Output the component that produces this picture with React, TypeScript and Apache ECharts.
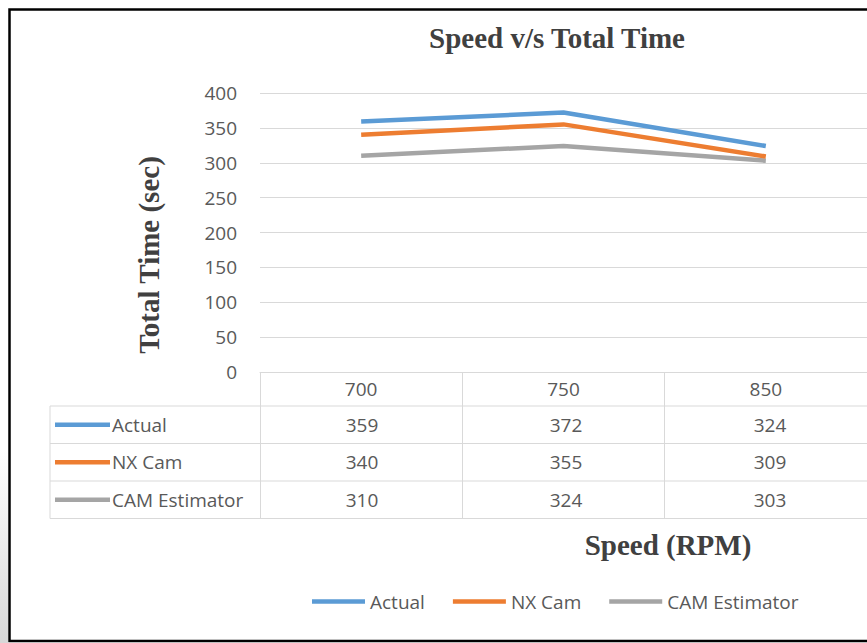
import React, { useEffect, useRef } from "react";
import * as echarts from "echarts";

const categories = ["700", "750", "850"];
const seriesNames = ["Actual", "NX Cam", "CAM Estimator"];
const actualValues = [359, 372, 324];
const nxCamValues = [340, 355, 309];
const camEstimatorValues = [310, 324, 303];
const seriesColors = ["#5B9BD5", "#ED7D31", "#A5A5A5"];
const yMin = 0;
const yMax = 400;
const yInterval = 50;

const chartTitle = "Speed v/s Total Time";
const yTitle = "Total Time (sec)";
const xTitle = "Speed (RPM)";

export default function App() {
  const ref = useRef<HTMLDivElement>(null);
  useEffect(() => {
    if (!ref.current) return;
    const chart = echarts.init(ref.current, undefined, { renderer: "svg" });
    const allValues = [actualValues, nxCamValues, camEstimatorValues];

    const gridLeft = 260;
    const gridTop = 93;
    const gridWidth = 612;
    const gridHeight = 279;
    const colW = gridWidth / categories.length;
    const tableTop = gridTop + gridHeight + 34;
    const rowH = 37.5;
    const tableLeft = 50;
    const tableRight = gridLeft + gridWidth;
    const textColor = "#595959";
    const titleColor = "#404040";
    const sans = "'Open Sans', sans-serif";
    const serif = "'Liberation Serif', 'Times New Roman', serif";

    const graphic: any[] = [];
    // border shadow
    graphic.push({
      type: "rect",
      shape: { x: 0, y: 450, width: 8, height: 193 },
      style: {
        fill: new echarts.graphic.LinearGradient(0, 0, 0, 1, [
          { offset: 0, color: "rgba(215,215,215,0)" },
          { offset: 1, color: "rgba(215,215,215,1)" },
        ]),
      },
      silent: true,
    });
    graphic.push({
      type: "rect",
      shape: { x: 9.5, y: 9.5, width: 950, height: 631.5 },
      style: { fill: "none", stroke: "#000", lineWidth: 2.5 },
      silent: true,
    });
    // table horizontal lines
    for (let i = 0; i <= seriesNames.length; i++) {
      const y = tableTop + i * rowH;
      graphic.push({
        type: "line",
        shape: { x1: tableLeft, y1: y, x2: tableRight, y2: y },
        style: { stroke: "#d9d9d9", lineWidth: 1 },
        silent: true,
      });
    }
    graphic.push({
      type: "line",
      shape: { x1: tableLeft, y1: tableTop, x2: tableLeft, y2: tableTop + rowH * seriesNames.length },
      style: { stroke: "#d9d9d9", lineWidth: 1 },
      silent: true,
    });
    seriesNames.forEach((name, i) => {
      const cy = tableTop + rowH * (i + 0.5);
      graphic.push({
        type: "line",
        shape: { x1: 55, y1: cy, x2: 110, y2: cy },
        style: { stroke: seriesColors[i], lineWidth: 4.5 },
        silent: true,
      });
      graphic.push({
        type: "text",
        x: 112,
        y: cy,
        style: {
          text: name,
          fill: textColor,
          fontSize: 19,
          fontFamily: sans,
          textAlign: "left",
          textVerticalAlign: "middle",
          align: "left",
          verticalAlign: "middle",
        },
        silent: true,
      });
      allValues[i].forEach((v, j) => {
        graphic.push({
          type: "text",
          x: gridLeft + colW * (j + 0.5),
          y: cy,
          style: {
            text: String(v),
            fill: textColor,
            fontSize: 19,
            fontFamily: sans,
            textAlign: "center",
            textVerticalAlign: "middle",
            align: "center",
            verticalAlign: "middle",
          },
          silent: true,
        });
      });
    });
    // titles
    graphic.push({
      type: "text",
      x: 557,
      y: 38,
      style: {
        text: chartTitle,
        fill: titleColor,
        fontSize: 29,
        fontWeight: "bold",
        fontFamily: serif,
        textAlign: "center",
        textVerticalAlign: "middle",
        align: "center",
        verticalAlign: "middle",
      },
      silent: true,
    });
    graphic.push({
      type: "text",
      x: 149,
      y: 255,
      rotation: Math.PI / 2,
      style: {
        text: yTitle,
        fill: titleColor,
        fontSize: 29,
        fontWeight: "bold",
        fontFamily: serif,
        textAlign: "center",
        textVerticalAlign: "middle",
        align: "center",
        verticalAlign: "middle",
      },
      silent: true,
    });
    graphic.push({
      type: "text",
      x: 668,
      y: 545,
      style: {
        text: xTitle,
        fill: titleColor,
        fontSize: 29,
        fontWeight: "bold",
        fontFamily: serif,
        textAlign: "center",
        textVerticalAlign: "middle",
        align: "center",
        verticalAlign: "middle",
      },
      silent: true,
    });

    chart.setOption({
      animation: false,
      backgroundColor: "#ffffff",
      grid: { left: gridLeft, top: gridTop, width: gridWidth, height: gridHeight, containLabel: false },
      legend: {
        data: seriesNames,
        left: 312,
        top: 592,
        icon: "rect",
        itemWidth: 53,
        itemHeight: 4.5,
        itemGap: 28,
        padding: 0,
        textStyle: { fontSize: 19, color: textColor, fontFamily: sans },
      },
      xAxis: {
        type: "category",
        data: categories,
        boundaryGap: true,
        axisLine: { show: true, lineStyle: { color: "#d9d9d9", width: 1 } },
        axisTick: { show: true, length: 34 + rowH * seriesNames.length, lineStyle: { color: "#d9d9d9", width: 1 } },
        axisLabel: { fontSize: 19, color: textColor, fontFamily: sans, margin: 7 },
      },
      yAxis: {
        type: "value",
        min: yMin,
        max: yMax,
        interval: yInterval,
        axisLine: { show: false },
        axisTick: { show: false },
        axisLabel: { fontSize: 19, color: textColor, fontFamily: sans, margin: 23 },
        splitLine: { lineStyle: { color: "#d9d9d9", width: 1 } },
      },
      series: seriesNames.map((name, i) => ({
        name,
        type: "line",
        data: allValues[i],
        symbol: "none",
        showSymbol: false,
        lineStyle: { color: seriesColors[i], width: 4.5 },
        itemStyle: { color: seriesColors[i] },
        z: 10 - i,
      })),
      graphic,
    });
    return () => chart.dispose();
  }, []);
  return (
    <div
      ref={ref}
      style={{ position: "absolute", left: 0, top: 0, width: 867, height: 643, overflow: "hidden" }}
    />
  );
}
